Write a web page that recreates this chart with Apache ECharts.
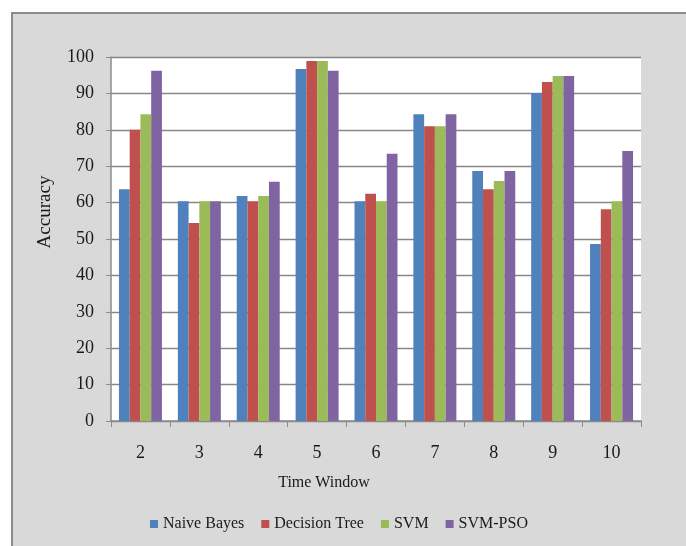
<!DOCTYPE html>
<html>
<head>
<meta charset="utf-8">
<script src="https://cdn.jsdelivr.net/npm/echarts@6/dist/echarts.min.js"></script>
<style>
html,body{margin:0;padding:0;background:#fff;}
#main{width:686px;height:546px;}
</style>
</head>
<body>
<div id="main"></div>
<script>
const categories = ['2','3','4','5','6','7','8','9','10'];
const naiveBayes   = [63.7, 60.4, 61.8, 96.7, 60.4, 84.3, 68.7, 90.1, 48.6];
const decisionTree = [80.0, 54.4, 60.4, 98.9, 62.4, 81.0, 63.7, 93.1, 58.2];
const svm          = [84.3, 60.4, 61.8, 98.9, 60.4, 81.0, 65.9, 94.8, 60.4];
const svmPso       = [96.2, 60.4, 65.7, 96.2, 73.4, 84.3, 68.7, 94.8, 74.2];
const seriesNames = ['Naive Bayes','Decision Tree','SVM','SVM-PSO'];
const colors = ['#4f81bd','#c0504d','#9bbb59','#8064a2'];

const FONT = '"Liberation Serif", "Times New Roman", serif';
const chart = echarts.init(document.getElementById('main'));
const dataSets = [naiveBayes, decisionTree, svm, svmPso];

chart.setOption({
  backgroundColor: '#ffffff',
  animation: false,
  color: colors,
  graphic: [
    { type: 'rect', z: -10, shape: { x: 12, y: 13, width: 720, height: 600 },
      style: { fill: '#d9d9d9', stroke: '#8c8c8c', lineWidth: 2 } },
    { type: 'text', x: 45, y: 212, rotation: Math.PI / 2, z: 10,
      style: { text: 'Accuracy', font: '19px ' + FONT, fill: '#1a1a1a', align: 'center', verticalAlign: 'middle' } },
    { type: 'text', x: 324, y: 483, z: 10,
      style: { text: 'Time Window', font: '16px ' + FONT, fill: '#1a1a1a', align: 'center', verticalAlign: 'middle' } }
  ],
  grid: { left: 111, right: 45, top: 57, bottom: 125, show: true, backgroundColor: '#ffffff', borderWidth: 0 },
  legend: {
    data: seriesNames,
    left: 145, top: 511,
    itemWidth: 8, itemHeight: 8, itemGap: 17,
    icon: 'rect',
    textStyle: { fontFamily: FONT, fontSize: 16, color: '#1a1a1a' }
  },
  xAxis: {
    type: 'category',
    data: categories,
    axisLine: { lineStyle: { color: '#8c8c8c', width: 1.5 } },
    axisTick: { show: true, length: 6, alignWithLabel: false, lineStyle: { color: '#8c8c8c' } },
    axisLabel: { fontFamily: FONT, fontSize: 18, color: '#1a1a1a', margin: 23 }
  },
  yAxis: {
    type: 'value',
    min: 0, max: 100, interval: 10,
    axisLine: { show: true, lineStyle: { color: '#8c8c8c', width: 1.5 } },
    axisTick: { show: true, length: 5, lineStyle: { color: '#8c8c8c' } },
    axisLabel: { fontFamily: FONT, fontSize: 18, color: '#1a1a1a', margin: 17 },
    splitLine: { lineStyle: { color: '#868686', width: 1.3 } }
  },
  series: seriesNames.map((n, i) => ({
    name: n,
    type: 'bar',
    data: dataSets[i],
    barGap: '0%',
    barCategoryGap: '27%',
    itemStyle: { color: colors[i] }
  }))
});
</script>
</body>
</html>
